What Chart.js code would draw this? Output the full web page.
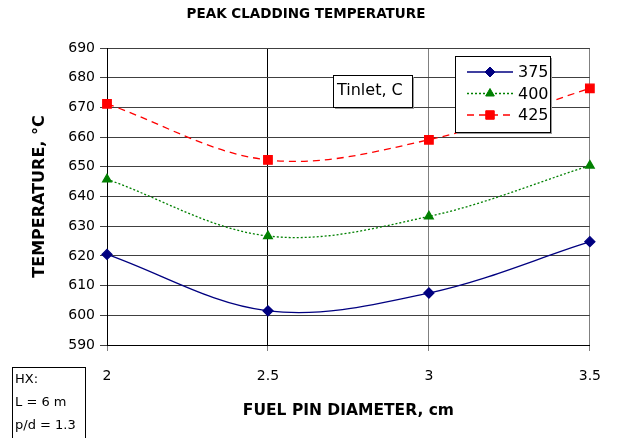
<!DOCTYPE html>
<html>
<head>
<meta charset="utf-8">
<script src="https://cdn.jsdelivr.net/npm/chart.js@4/dist/chart.umd.min.js"></script>
<style>
  html, body { margin: 0; padding: 0; background: #fff; }
  #wrap { position: relative; width: 618px; height: 438px; }
</style>
</head>
<body>
<div id="wrap"><canvas id="chart" width="618" height="438"></canvas></div>
<script>
// Data
const diameters = [2, 2.5, 3, 3.5];
const temp375 = [620.5, 601.5, 607.5, 624.8];
const temp400 = [645.8, 626.7, 633.3, 650.4];
const temp425 = [671.2, 652.3, 659.1, 676.4];
const seriesLabels = ['375', '400', '425'];
const xTicks = [2, 2.5, 3, 3.5];

const FONT = 'DejaVu Sans';

const toPoints = (values) => values.map((v, i) => ({ x: diameters[i], y: v }));

// Title, legend, inlet label and HX note drawn on the canvas
const notesPlugin = {
    id: 'notes',
    afterDraw(chart) {
        const ctx = chart.ctx;
        const box = (x, y, w, h) => {
            ctx.fillStyle = '#9a9a9a';
            ctx.fillRect(x + 2, y + 2, w, h);
            ctx.fillStyle = '#fff';
            ctx.fillRect(x, y, w, h);
            ctx.strokeStyle = '#000';
            ctx.lineWidth = 1;
            ctx.strokeRect(x + 0.5, y + 0.5, w, h);
        };

        // chart title
        ctx.fillStyle = '#000';
        ctx.font = 'bold 13.5px ' + FONT;
        ctx.textAlign = 'center';
        ctx.textBaseline = 'middle';
        ctx.fillText('PEAK CLADDING TEMPERATURE', 306, 14);

        // legend
        box(455, 56, 95, 76);
        ctx.font = '16px ' + FONT;
        ctx.textAlign = 'left';
        chart.data.datasets.forEach((ds, i) => {
            const y = 72 + i * 21.5;
            ctx.save();
            ctx.strokeStyle = ds.borderColor;
            ctx.lineWidth = ds.borderWidth;
            ctx.setLineDash(ds.borderDash || []);
            ctx.beginPath();
            ctx.moveTo(467, y);
            ctx.lineTo(513, y);
            ctx.stroke();
            ctx.restore();
            ctx.fillStyle = ds.backgroundColor;
            ctx.strokeStyle = ds.borderColor;
            Chart.helpers.drawPoint(ctx, {
                pointStyle: ds.pointStyle,
                radius: ds.pointRadius,
                borderWidth: 1,
                rotation: 0,
            }, 490, y);
            ctx.fillStyle = '#000';
            ctx.fillText(ds.label, 518, y + 1);
        });

        // inlet temperature label
        box(333, 75, 79, 32);
        ctx.fillStyle = '#000';
        ctx.font = '16px ' + FONT;
        ctx.fillText('Tinlet, C', 337, 91);

        // heat exchanger note
        ctx.fillStyle = '#fff';
        ctx.fillRect(12, 367, 74, 75);
        ctx.strokeStyle = '#000';
        ctx.strokeRect(12.5, 367.5, 73, 75);
        ctx.fillStyle = '#000';
        ctx.font = '13px ' + FONT;
        ctx.fillText('HX:', 15, 380);
        ctx.fillText('L = 6 m', 15, 403);
        ctx.fillText('p/d = 1.3', 15, 426);
    },
};

new Chart(document.getElementById('chart'), {
    type: 'line',
    data: {
        datasets: [
            {
                label: seriesLabels[0],
                data: toPoints(temp375),
                borderColor: '#000080',
                backgroundColor: '#000080',
                borderWidth: 1.3,
                pointStyle: 'rectRot',
                pointRadius: 5,
                tension: 0.35,
                clip: false,
            },
            {
                label: seriesLabels[1],
                data: toPoints(temp400),
                borderColor: '#008000',
                backgroundColor: '#008000',
                borderWidth: 1.3,
                borderDash: [2, 2],
                pointStyle: 'triangle',
                pointRadius: 5,
                tension: 0.35,
                clip: false,
            },
            {
                label: seriesLabels[2],
                data: toPoints(temp425),
                borderColor: '#ff0000',
                backgroundColor: '#ff0000',
                borderWidth: 1.3,
                borderDash: [7, 5],
                pointStyle: 'rect',
                pointRadius: 6,
                tension: 0.35,
                clip: false,
            },
        ],
    },
    options: {
        responsive: false,
        animation: false,
        layout: { padding: { left: 0, right: 22, top: 48, bottom: 0 } },
        plugins: {
            legend: { display: false },
            tooltip: { enabled: false },
        },
        scales: {
            x: {
                type: 'linear',
                min: 2,
                max: 3.5,
                afterBuildTicks: (scale) => {
                    scale.ticks = xTicks.map((v) => ({ value: v }));
                },
                afterFit: (scale) => { scale.height = 93; },
                ticks: {
                    color: '#000',
                    font: { family: FONT, size: 14 },
                    padding: 17,
                    maxRotation: 0,
                    callback: (v) => String(v),
                },
                grid: {
                    color: (c) => (c.tick && c.tick.value === 2.5 ? '#000' : '#808080'),
                    tickColor: '#808080',
                    tickLength: 6,
                },
                border: { color: '#000', width: 1 },
                title: {
                    display: true,
                    text: 'FUEL PIN DIAMETER, cm',
                    color: '#000',
                    font: { family: FONT, size: 15.5, weight: 'bold' },
                    padding: { top: 0, bottom: 18 },
                },
            },
            y: {
                min: 590,
                max: 690,
                afterFit: (scale) => { scale.width = 107; },
                ticks: {
                    stepSize: 10,
                    color: '#000',
                    font: { family: FONT, size: 14 },
                    padding: 5,
                },
                grid: {
                    color: '#404040',
                    tickColor: '#404040',
                    tickLength: 7,
                },
                border: { color: '#000', width: 1 },
                title: {
                    display: true,
                    text: 'TEMPERATURE, \u00B0C',
                    color: '#000',
                    font: { family: FONT, size: 16, weight: 'bold' },
                    padding: { top: 30, bottom: 0 },
                },
            },
        },
    },
    plugins: [notesPlugin],
});
</script>
</body>
</html>
